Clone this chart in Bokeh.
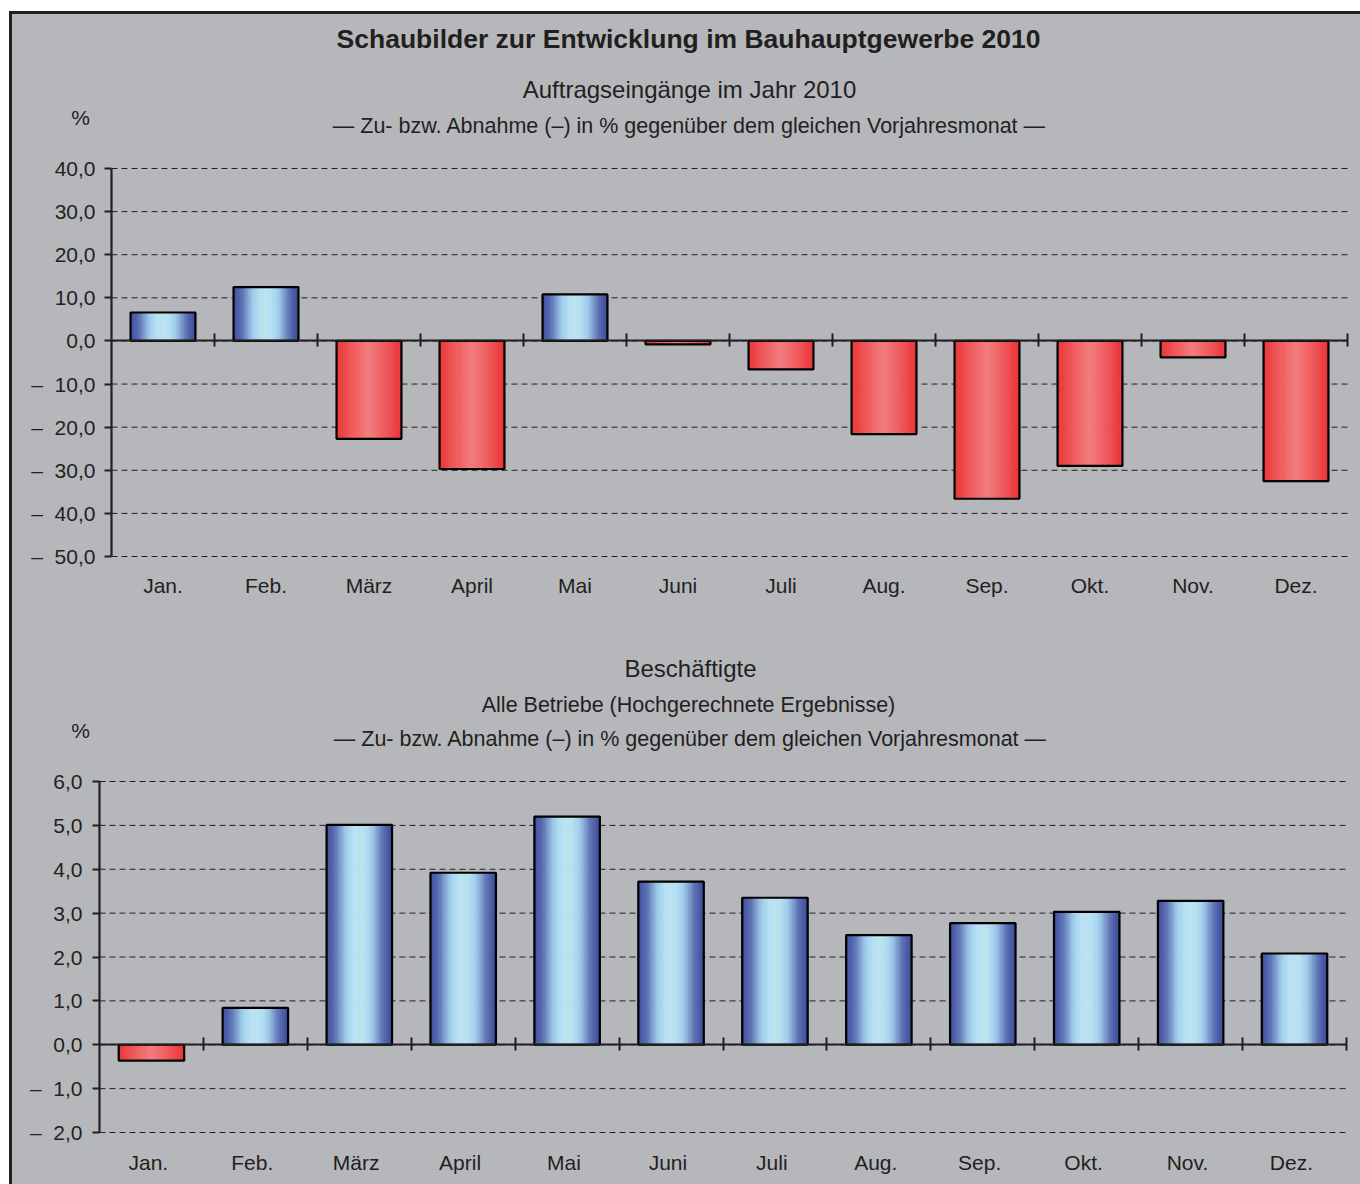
from bokeh.plotting import figure
from bokeh.models import LinearAxis, FixedTicker, Range1d
from bokeh.core.properties import value
from bokeh.layouts import column
from bokeh.embed import file_html
from bokeh.resources import INLINE

# ---------------- data ----------------
months = ["Jan.", "Feb.", "März", "April", "Mai", "Juni", "Juli", "Aug.", "Sep.", "Okt.", "Nov.", "Dez."]
auftragseingaenge = [6.6, 12.5, -22.7, -29.7, 10.8, -0.8, -6.6, -21.6, -36.6, -29.0, -3.8, -32.5]
beschaeftigte = [-0.36, 0.84, 5.01, 3.92, 5.2, 3.72, 3.35, 2.5, 2.77, 3.03, 3.28, 2.08]

top_ticks = [40, 30, 20, 10, 0, -10, -20, -30, -40, -50]
top_tick_labels = ["40,0", "30,0", "20,0", "10,0", "0,0",
                   "–\u00a0\u00a010,0", "–\u00a0\u00a020,0", "–\u00a0\u00a030,0",
                   "–\u00a0\u00a040,0", "–\u00a0\u00a050,0"]
bottom_ticks = [6, 5, 4, 3, 2, 1, 0, -1, -2]
bottom_tick_labels = ["6,0", "5,0", "4,0", "3,0", "2,0", "1,0", "0,0",
                      "–\u00a0\u00a01,0", "–\u00a0\u00a02,0"]

main_title = "Schaubilder zur Entwicklung im Bauhauptgewerbe 2010"
top_title = "Auftragseingänge im Jahr 2010"
top_sub = "— Zu- bzw. Abnahme (–) in % gegenüber dem gleichen Vorjahresmonat —"
bottom_title = "Beschäftigte"
bottom_title2 = "Alle Betriebe (Hochgerechnete Ergebnisse)"
bottom_sub = "— Zu- bzw. Abnahme (–) in % gegenüber dem gleichen Vorjahresmonat —"

# ---------------- style / layout (page pixels) ----------------
BG = "#b6b7bb"
INK = "#231f20"
FONT = "Liberation Sans"
BAR_W = 0.63
N_STRIPS = 30
PAGE_LEFT, PAGE_RIGHT = 12, 1360

blue_stops = [(0.0, "#3b4b9b"), (0.14, "#5e72b7"), (0.3, "#9fcdec"),
              (0.42, "#b7e3f6"), (0.5, "#c0e3ee"), (0.58, "#b7e3f6"),
              (0.7, "#9fcdec"), (0.86, "#5e72b7"), (1.0, "#38489a")]
red_stops = [(0.0, "#ec3435"), (0.25, "#f05a5c"), (0.5, "#f47c7e"),
             (0.75, "#f05a5c"), (1.0, "#eb3335")]


def hex2rgb(h):
    h = h.lstrip("#")
    return tuple(int(h[i:i + 2], 16) for i in (0, 2, 4))


def grad(stops, t):
    for (t0, c0), (t1, c1) in zip(stops[:-1], stops[1:]):
        if t0 <= t <= t1:
            f = (t - t0) / (t1 - t0) if t1 > t0 else 0
            a, b = hex2rgb(c0), hex2rgb(c1)
            return "#%02x%02x%02x" % tuple(int(round(a[i] + (b[i] - a[i]) * f)) for i in range(3))
    return stops[-1][1]


def add_bars(p, values):
    l, r, t, b, c = [], [], [], [], []
    ol, orr, ot, ob = [], [], [], []
    for i, v in enumerate(values):
        x0 = i + 0.5 - BAR_W / 2
        stops = blue_stops if v >= 0 else red_stops
        for k in range(N_STRIPS):
            l.append(x0 + k * BAR_W / N_STRIPS)
            r.append(x0 + (k + 1) * BAR_W / N_STRIPS)
            t.append(max(v, 0))
            b.append(min(v, 0))
            c.append(grad(stops, (k + 0.5) / N_STRIPS))
        ol.append(x0)
        orr.append(x0 + BAR_W)
        ot.append(max(v, 0))
        ob.append(min(v, 0))
    p.quad(left=l, right=r, top=t, bottom=b, fill_color=c, line_color=c, line_width=0.6)
    p.quad(left=ol, right=orr, top=ot, bottom=ob, fill_alpha=0,
           line_color="#000000", line_width=2.2)


class Chart:
    """A figure whose frame fills its canvas; axes sit at fixed data locations."""

    def __init__(self, values, ticks, tick_labels, page_top, page_bottom,
                 axis_x, plot_right, y_top_px, y_bot_px, tick_standoff, month_standoff,
                 month_shift=0.0):
        ymax, ymin = max(ticks), min(ticks)
        ncat = len(months)
        sx = (plot_right - axis_x) / ncat
        sy = (y_bot_px - y_top_px) / (ymax - ymin)
        self.axis_x, self.sx, self.sy, self.y_top_px, self.ymax = axis_x, sx, sy, y_top_px, ymax
        x_range = Range1d(-(axis_x - PAGE_LEFT) / sx, ncat + (PAGE_RIGHT - plot_right) / sx)
        y_range = Range1d(ymin - (page_bottom - y_bot_px) / sy, ymax + (y_top_px - page_top) / sy)
        p = figure(width=PAGE_RIGHT - PAGE_LEFT, height=page_bottom - page_top,
                   output_backend="svg", toolbar_location=None,
                   x_range=x_range, y_range=y_range, x_axis_type=None, y_axis_type=None,
                   min_border=0, min_border_left=0, min_border_right=0,
                   min_border_top=0, min_border_bottom=0)
        p.background_fill_color = BG
        p.border_fill_color = BG
        p.outline_line_color = None
        p.xgrid.visible = False
        p.ygrid.visible = False

        # dashed grid lines from the y axis to the right end
        p.segment(x0=[0] * len(ticks), x1=[ncat] * len(ticks), y0=ticks, y1=ticks,
                  line_color=INK, line_width=1, line_dash="6 4")

        add_bars(p, values)

        yax = LinearAxis(fixed_location=0, bounds=(ymin, ymax), ticker=FixedTicker(ticks=ticks))
        yax.major_label_overrides = {t: s for t, s in zip(ticks, tick_labels)}
        yax.axis_line_width = 2.2
        yax.axis_line_color = INK
        yax.major_tick_line_width = 2.2
        yax.major_tick_line_color = INK
        yax.major_tick_out = 7
        yax.major_tick_in = 0
        yax.minor_tick_line_color = None
        yax.major_label_text_font = FONT
        yax.major_label_text_font_size = "21px"
        yax.major_label_text_color = INK
        yax.major_label_standoff = tick_standoff
        p.add_layout(yax, "left")

        # zero line with category separators
        seps = list(range(1, ncat + 1))
        zax = LinearAxis(fixed_location=0, bounds=(0, ncat), ticker=FixedTicker(ticks=seps))
        zax.major_label_overrides = {s: "" for s in seps}
        zax.axis_line_width = 2.2
        zax.axis_line_color = INK
        zax.major_tick_line_width = 2
        zax.major_tick_line_color = INK
        zax.major_tick_out = 7
        zax.major_tick_in = 6
        zax.minor_tick_line_color = None
        p.add_layout(zax, "above")

        # month labels below the lowest grid line
        centers = [i + 0.5 + month_shift for i in range(ncat)]
        mx = LinearAxis(fixed_location=ymin, ticker=FixedTicker(ticks=centers))
        mx.major_label_overrides = {c: m for c, m in zip(centers, months)}
        mx.axis_line_color = None
        mx.major_tick_line_color = None
        mx.minor_tick_line_color = None
        mx.major_tick_out = 0
        mx.major_tick_in = 0
        mx.major_label_text_font = FONT
        mx.major_label_text_font_size = "21px"
        mx.major_label_text_color = INK
        mx.major_label_standoff = month_standoff
        p.add_layout(mx, "below")
        self.p = p

    def text(self, px, py, txt, size, bold=False):
        x = (px - self.axis_x) / self.sx
        y = self.ymax + (self.y_top_px - py) / self.sy
        self.p.text(x=[x], y=[y], text=[txt], text_align="center", text_baseline="middle",
                    text_font=value(FONT), text_font_size=size, text_color=INK,
                    text_font_style="bold" if bold else "normal")


c1 = Chart(auftragseingaenge, top_ticks, top_tick_labels, page_top=14, page_bottom=620,
           axis_x=111, plot_right=1347, y_top_px=168, y_bot_px=556,
           tick_standoff=9, month_standoff=17)
c1.text(688, 38, main_title, "26.5px", bold=True)
c1.text(689, 89, top_title, "24px")
c1.text(689, 125, top_sub, "21.5px")
c1.text(80, 117, "%", "21px")

c2 = Chart(beschaeftigte, bottom_ticks, bottom_tick_labels, page_top=620, page_bottom=1184,
           axis_x=99, plot_right=1346, y_top_px=781, y_bot_px=1132,
           tick_standoff=10, month_standoff=18, month_shift=-0.03)
c2.text(690, 668, bottom_title, "24px")
c2.text(688, 704, bottom_title2, "21.5px")
c2.text(690, 738, bottom_sub, "21.5px")
c2.text(80, 730, "%", "21px")

layout = column(c1.p, c2.p, spacing=0,
                styles={"border-top": "3px solid #231f20", "border-left": "3px solid #231f20",
                        "margin-left": "9px", "margin-top": "11px", "background-color": BG})

open("out.html", "w").write(file_html(layout, INLINE))
